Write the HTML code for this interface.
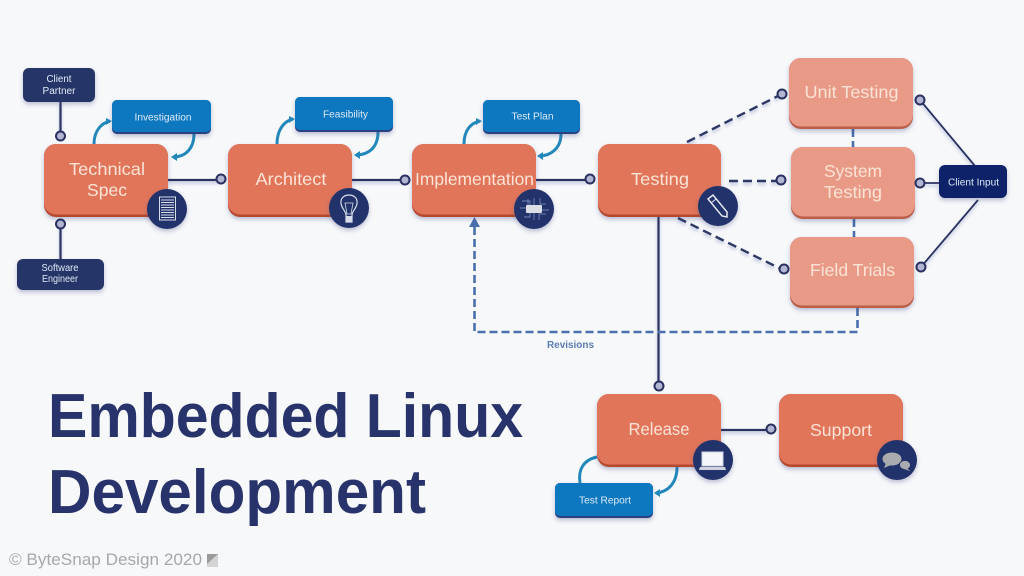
<!DOCTYPE html>
<html><head><meta charset="utf-8"><style>
html,body{margin:0;padding:0;background:#f7f8fa;width:1024px;height:576px;overflow:hidden}
svg{display:block;filter:blur(.35px)}
text{font-family:"Liberation Sans",sans-serif}
.o{fill:#fbe3d6;font-size:17.5px;text-anchor:middle}
.w{fill:#dfeaf6;font-size:10px;text-anchor:middle}
</style></head><body>
<svg width="1024" height="576" viewBox="0 0 1024 576" xmlns="http://www.w3.org/2000/svg">
<defs>
<filter id="s" filterUnits="userSpaceOnUse" x="0" y="0" width="1024" height="576"><feDropShadow dx="0" dy="2.500" stdDeviation="2.200" flood-color="#3a4a80" flood-opacity=".32"/></filter>
<filter id="l" filterUnits="userSpaceOnUse" x="0" y="0" width="1024" height="576"><feDropShadow dx="0" dy="2.500" stdDeviation="1.500" flood-color="#5a6aa8" flood-opacity=".4"/></filter>
</defs>
<rect width="1024" height="576" fill="#f7f8fa"/>

<!-- solid connectors -->
<g fill="none" stroke="#2a3160" stroke-width="2.200" filter="url(#l)">
<path d="M60.500 102V136M60.500 224V259"/>
<path d="M168 180H221M352 180H405M536 180H590M721 430H771"/>
<path d="M658.500 216V385"/>
<path d="M920 100L975 166M920 183H940M921 267L978 200" stroke-width="1.800"/>
</g>

<!-- dashed dark connectors -->
<g fill="none" stroke="#2f3866" stroke-width="2.400" stroke-dasharray="9 5" filter="url(#l)">
<path d="M687 142L780 95"/>
<path d="M729 181H781"/>
<path d="M678 218L781 269"/>
</g>

<!-- blue dashed -->
<g fill="none" stroke="#4a70ad" stroke-width="2.600" stroke-dasharray="8 4">
<path d="M853 129V147M854 219V237"/>
<path d="M857.500 308V332H474.500V226"/>
</g>
<path d="M474.500 217L480 227H469Z" fill="#4a70ad"/>
<text x="570.500" y="348" font-size="10" font-weight="bold" fill="#5a7db0" text-anchor="middle" textLength="47" lengthAdjust="spacingAndGlyphs">Revisions</text>

<!-- curved teal connectors -->
<g fill="none" stroke="#2288bb" stroke-width="3">
<path d="M94 144C94 130 102 123 110 121"/>
<path d="M194 134C194 148 186 157 173 157"/>
<path d="M277 144C277 130 284 121 293 119"/>
<path d="M378 132C378 148 368 155 356 155"/>
<path d="M464 144C464 130 471 123 480 121"/>
<path d="M561 134C561 148 551 156 539 156"/>
<path d="M580 483C578 470 583 460 597 457"/>
<path d="M677 467C677 483 668 492 656 493"/>
</g>
<g fill="#2288bb">
<path d="M112 121L106 118V125Z"/><path d="M171 157L177 153V161Z"/>
<path d="M295 119L289 116V123Z"/><path d="M354 155L360 151V159Z"/>
<path d="M482 121L476 118V125Z"/><path d="M537 156L543 152V160Z"/>
<path d="M654 493L660 489V497Z"/>
</g>

<!-- orange boxes -->
<g filter="url(#s)">
<rect x="44" y="144" width="124" height="73" rx="12" fill="#b5492f"/><rect x="44" y="144" width="124" height="70.500" rx="12" fill="#e0745a"/>
<rect x="228" y="144" width="124" height="73" rx="12" fill="#b5492f"/><rect x="228" y="144" width="124" height="70.500" rx="12" fill="#e0745a"/>
<rect x="412" y="144" width="124" height="73" rx="12" fill="#b5492f"/><rect x="412" y="144" width="124" height="70.500" rx="12" fill="#e0745a"/>
<rect x="598" y="144" width="123" height="73" rx="12" fill="#b5492f"/><rect x="598" y="144" width="123" height="70.500" rx="12" fill="#e0745a"/>
<rect x="597" y="394" width="124" height="73" rx="12" fill="#b5492f"/><rect x="597" y="394" width="124" height="70.500" rx="12" fill="#e0745a"/>
<rect x="779" y="394" width="124" height="73" rx="12" fill="#b5492f"/><rect x="779" y="394" width="124" height="70.500" rx="12" fill="#e0745a"/>
<rect x="789" y="58" width="124" height="71" rx="12" fill="#bb5f49"/><rect x="789" y="58" width="124" height="68.500" rx="12" fill="#e99a87"/>
<rect x="791" y="147" width="124" height="72" rx="12" fill="#bb5f49"/><rect x="791" y="147" width="124" height="69.500" rx="12" fill="#e99a87"/>
<rect x="790" y="237" width="124" height="71" rx="12" fill="#bb5f49"/><rect x="790" y="237" width="124" height="68.500" rx="12" fill="#e99a87"/>
</g>

<!-- blue boxes -->
<g filter="url(#s)">
<rect x="112" y="100" width="99" height="34" rx="5" fill="#2b3f80"/><rect x="112" y="100" width="99" height="32" rx="5" fill="#0a78c0"/>
<rect x="295" y="97" width="98" height="35" rx="5" fill="#2b3f80"/><rect x="295" y="97" width="98" height="33" rx="5" fill="#0a78c0"/>
<rect x="483" y="100" width="97" height="34" rx="5" fill="#2b3f80"/><rect x="483" y="100" width="97" height="32" rx="5" fill="#0a78c0"/>
<rect x="555" y="483" width="98" height="35" rx="5" fill="#2b3f80"/><rect x="555" y="483" width="98" height="33" rx="5" fill="#0a78c0"/>
<rect x="23" y="68" width="72" height="34" rx="6" fill="#263468"/>
<rect x="17" y="259" width="87" height="31" rx="6" fill="#263468"/>
<rect x="939" y="165" width="68" height="33" rx="6" fill="#0c2468"/>
</g>

<!-- small port circles -->
<g fill="#b3b6d2" stroke="#2a3160" stroke-width="2">
<circle cx="60.500" cy="136" r="4.500"/><circle cx="60.500" cy="224" r="4.500"/>
<circle cx="221" cy="179" r="4.500"/><circle cx="405" cy="180" r="4.500"/><circle cx="590" cy="179" r="4.500"/>
<circle cx="782" cy="94" r="4.500"/><circle cx="781" cy="180" r="4.500"/><circle cx="784" cy="269" r="4.500"/>
<circle cx="920" cy="100" r="4.500"/><circle cx="920" cy="183" r="4.500"/><circle cx="921" cy="267" r="4.500"/>
<circle cx="659" cy="386" r="4.500"/><circle cx="771" cy="429" r="4.500"/>
</g>

<!-- icon circles -->
<g fill="#24306a" filter="url(#s)">
<circle cx="167" cy="209" r="20"/><circle cx="349" cy="208" r="20"/><circle cx="534" cy="209" r="20"/>
<circle cx="718" cy="206" r="20"/><circle cx="713" cy="460" r="20"/><circle cx="897" cy="460" r="20"/>
</g>
<!-- doc icon -->
<rect x="159.500" y="197" width="16" height="23" fill="none" stroke="#d8dce8" stroke-width="1"/>
<path d="M161 200H174M161 202.500H174M161 205H174M161 207.500H174M161 210H174M161 212.500H174M161 215H174M161 217.500H174" stroke="#d8dce8" stroke-width="1"/>
<!-- bulb icon -->
<path d="M346 222H352V215C352 211 358 207 357 201C356 193 342 193 341 201C340 207 346 211 346 215Z" fill="none" stroke="#d8dce8" stroke-width="1.200"/>
<rect x="346" y="216" width="6" height="6" fill="#d8dce8"/>
<path d="M345 203H353L351 214H347Z" fill="none" stroke="#d8dce8" stroke-width=".8"/>
<!-- chip icon -->
<path d="M522 201H530V206M528 199V205M534 198V205M540 198V204H546M524 217H530V212M534 220V213M539 220V214H546M520 208H526M542 210H549" stroke="#8d9cc8" stroke-width=".7" fill="none"/>
<rect x="526" y="205" width="16" height="8" rx="1" fill="#dcdee6"/>
<!-- pencil icon -->
<path d="M708 199L713 195L727 212L727 217L722 216Z" fill="none" stroke="#e4e7f0" stroke-width="1.500"/>
<path d="M711 203L716 199" stroke="#e4e7f0" stroke-width="1"/>
<!-- laptop icon -->
<rect x="702" y="452" width="21" height="14" fill="#f5f6fa" stroke="#d0d3e0"/>
<path d="M700 467H725L726 470H699Z" fill="#cfd2de"/>
<!-- speech icon -->
<ellipse cx="892" cy="459" rx="9.500" ry="6.500" fill="#a9abaf"/><path d="M886 463L884 468L891 465Z" fill="#a9abaf"/>
<ellipse cx="905" cy="465" rx="5.500" ry="4.500" fill="#a9abaf" stroke="#24306a" stroke-width=".8"/><path d="M907 468L910 471L904 469Z" fill="#a9abaf"/>

<!-- labels -->
<text class="o" x="107" y="175" textLength="76" lengthAdjust="spacingAndGlyphs">Technical</text>
<text class="o" x="107" y="196" textLength="40" lengthAdjust="spacingAndGlyphs">Spec</text>
<text class="o" x="291" y="185" textLength="71" lengthAdjust="spacingAndGlyphs">Architect</text>
<text class="o" x="474.500" y="185" textLength="119" lengthAdjust="spacingAndGlyphs">Implementation</text>
<text class="o" x="660" y="185" textLength="58" lengthAdjust="spacingAndGlyphs">Testing</text>
<text class="o" x="851.500" y="98" textLength="94" lengthAdjust="spacingAndGlyphs">Unit Testing</text>
<text class="o" x="853" y="177" textLength="58" lengthAdjust="spacingAndGlyphs">System</text>
<text class="o" x="853" y="198" textLength="58" lengthAdjust="spacingAndGlyphs">Testing</text>
<text class="o" x="852.500" y="276" textLength="85" lengthAdjust="spacingAndGlyphs">Field Trials</text>
<text class="o" x="659" y="435" textLength="61" lengthAdjust="spacingAndGlyphs">Release</text>
<text class="o" x="841" y="436" textLength="62" lengthAdjust="spacingAndGlyphs">Support</text>

<text class="w" x="163" y="120.500" textLength="57" lengthAdjust="spacingAndGlyphs">Investigation</text>
<text class="w" x="345.500" y="117.500" textLength="45" lengthAdjust="spacingAndGlyphs">Feasibility</text>
<text class="w" x="532.500" y="119.500" textLength="42" lengthAdjust="spacingAndGlyphs">Test Plan</text>
<text class="w" x="605" y="503.500" textLength="52" lengthAdjust="spacingAndGlyphs">Test Report</text>
<text class="w" x="59" y="82" textLength="25" lengthAdjust="spacingAndGlyphs">Client</text>
<text class="w" x="59" y="94" textLength="33" lengthAdjust="spacingAndGlyphs">Partner</text>
<text class="w" x="60" y="271" font-size="9" textLength="37" lengthAdjust="spacingAndGlyphs">Software</text>
<text class="w" x="60" y="282" font-size="9" textLength="36" lengthAdjust="spacingAndGlyphs">Engineer</text>
<text class="w" x="973.500" y="185.500" fill="#e8eef8" textLength="51" lengthAdjust="spacingAndGlyphs">Client Input</text>

<!-- title -->
<text x="48" y="437" font-size="62" font-weight="bold" fill="#27336a" textLength="475" lengthAdjust="spacingAndGlyphs">Embedded Linux</text>
<text x="48" y="513" font-size="62" font-weight="bold" fill="#27336a" textLength="378" lengthAdjust="spacingAndGlyphs">Development</text>

<!-- footer -->
<text x="9" y="565" font-size="16.500" fill="#a8a8a8" textLength="193" lengthAdjust="spacingAndGlyphs">© ByteSnap Design 2020</text>
<rect x="207" y="554" width="11" height="13" fill="#d4d4d4"/>
<path d="M207 554H218L207 564Z" fill="#9a9a9a"/>
</svg>
</body></html>
